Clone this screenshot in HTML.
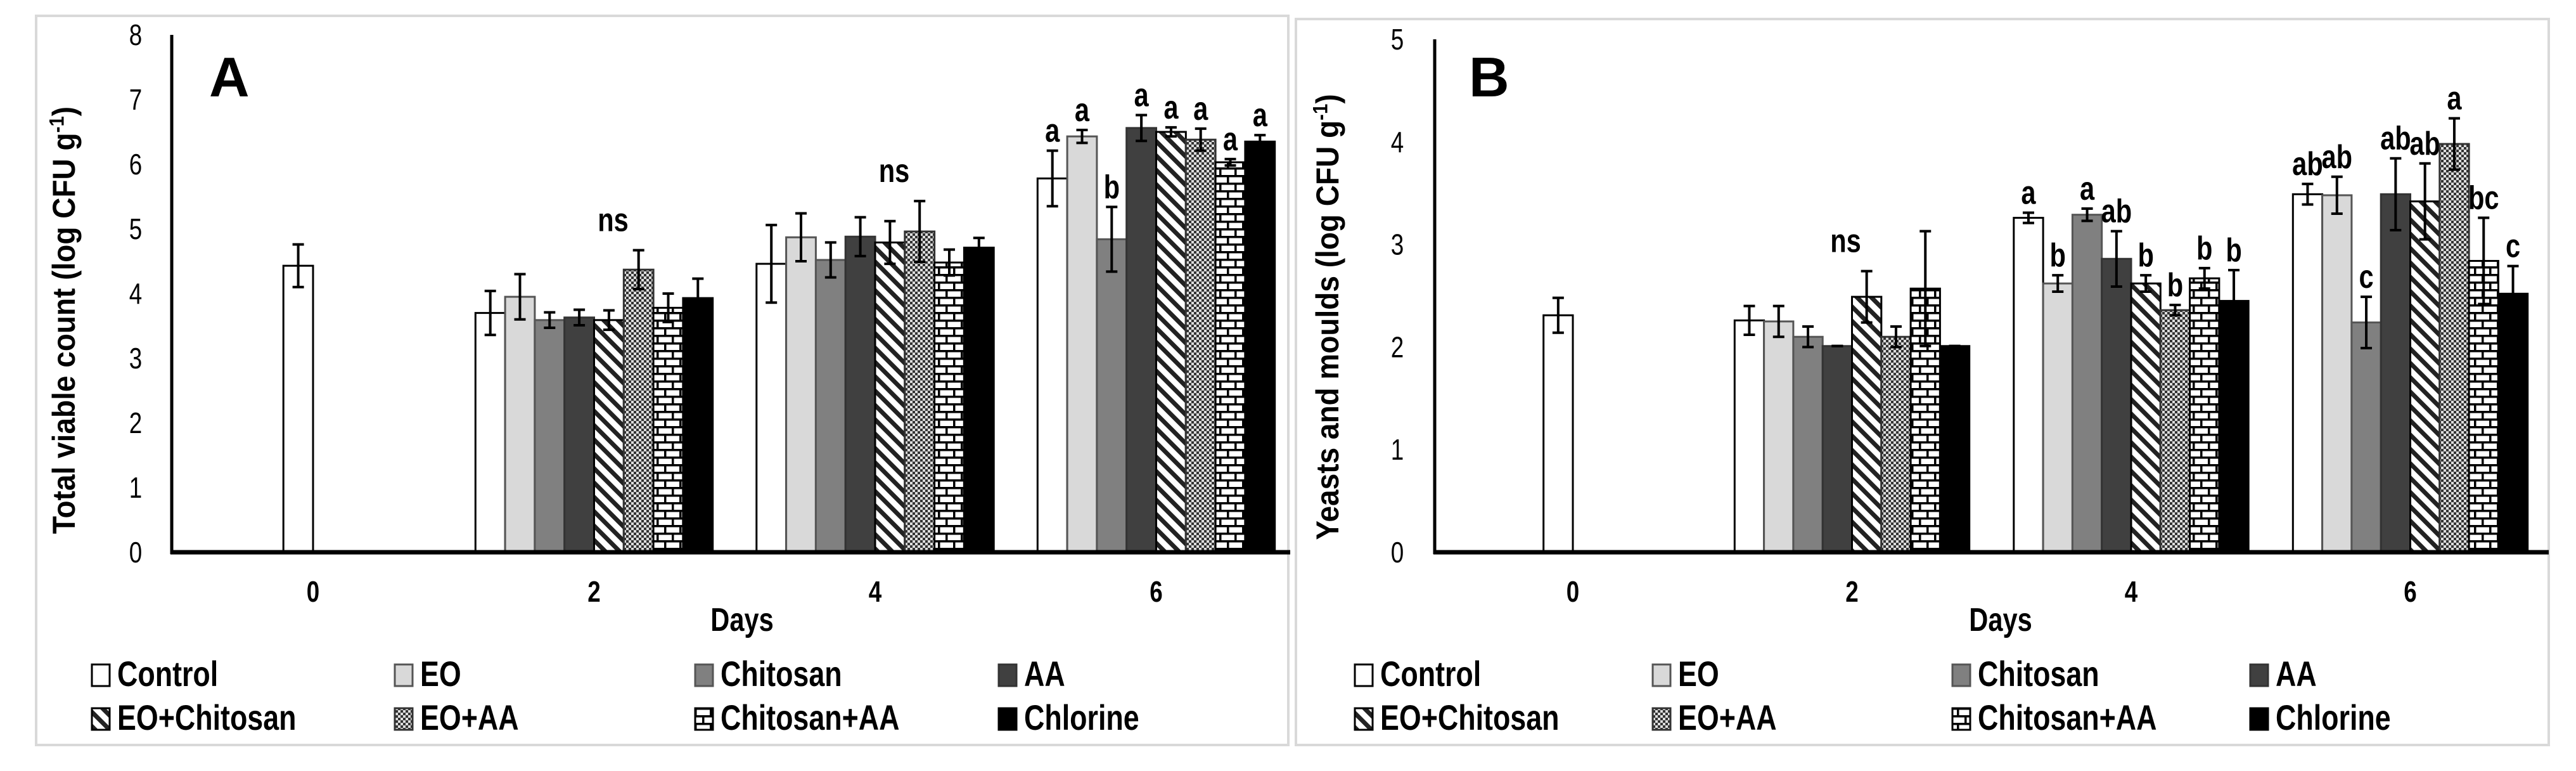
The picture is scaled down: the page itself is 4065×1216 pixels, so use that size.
<!DOCTYPE html>
<html><head><meta charset="utf-8"><title>TVC and yeasts/moulds</title>
<style>
html,body{margin:0;padding:0;background:#fff;}
svg{display:block;font-family:"Liberation Sans",sans-serif;}
</style></head>
<body>
<svg id="chart" width="4065" height="1216" viewBox="0 0 4065 1216" xmlns="http://www.w3.org/2000/svg">
<defs>
<pattern id="p-stripe" patternUnits="userSpaceOnUse" width="16" height="16" patternTransform="rotate(45)">
<rect width="16" height="16" fill="#fff"/><rect width="16" height="7" fill="#222"/>
</pattern>
<pattern id="p-check" patternUnits="userSpaceOnUse" width="8" height="8">
<rect width="8" height="8" fill="#ddd"/><rect width="4" height="4" fill="#333"/><rect x="4" y="4" width="4" height="4" fill="#333"/>
</pattern>
<pattern id="p-brick" patternUnits="userSpaceOnUse" width="24" height="24">
<rect width="24" height="24" fill="#fff"/>
<rect y="0" width="24" height="3.5" fill="#000"/><rect y="12" width="24" height="3.5" fill="#000"/>
<rect x="4" y="0" width="3.5" height="12" fill="#000"/><rect x="16" y="12" width="3.5" height="12" fill="#000"/>
</pattern>
</defs>
<g id="root"></g>
</svg>
<script>
const days = ["0","2","4","6"];
const seriesNames = ["Control","EO","Chitosan","AA","EO+Chitosan","EO+AA","Chitosan+AA","Chlorine"];
const ticksA = [0,1,2,3,4,5,6,7,8];
const ticksB = [0,1,2,3,4,5];
// Panel A: total viable count, rows = days, cols = series (day 0 only Control)
const valA = [
 [4.43],
 [3.70,3.95,3.59,3.63,3.59,4.37,3.78,3.93],
 [4.46,4.87,4.52,4.88,4.79,4.96,4.48,4.71],
 [5.78,6.43,4.84,6.56,6.50,6.38,6.03,6.35]
];
const errA = [
 [0.33],
 [0.34,0.35,0.12,0.12,0.15,0.30,0.22,0.30],
 [0.60,0.37,0.27,0.30,0.33,0.47,0.20,0.15],
 [0.43,0.10,0.50,0.20,0.07,0.17,0.05,0.10]
];
const lettersA = [[],[],[],["a","a","b","a","a","a","a","a"]];
const nsA = [null,"ns","ns",null];
// Panel B: yeasts and moulds
const valB = [
 [2.31],
 [2.26,2.25,2.10,2.01,2.49,2.10,2.57,2.01],
 [3.26,2.62,3.29,2.86,2.62,2.36,2.67,2.45],
 [3.49,3.48,2.24,3.49,3.42,3.98,2.84,2.52]
];
const errB = [
 [0.17],
 [0.14,0.15,0.10,0.00,0.25,0.10,0.56,0.00],
 [0.05,0.08,0.06,0.27,0.08,0.05,0.10,0.30],
 [0.10,0.18,0.25,0.35,0.37,0.25,0.42,0.27]
];
const lettersB = [[],[],["a","b","a","ab","b","b","b","b"],["ab","ab","c","ab","ab","a","bc","c"]];
const nsB = [null,"ns",null,null];

const fills = ["#fff","#d9d9d9","#808080","#404040","url(#p-stripe)","url(#p-check)","url(#p-brick)","#000"];
const strokes = ["#000","#555","#555","#333","#000","#333","#000","#000"];
const NS = "http://www.w3.org/2000/svg";
const SX = 0.8;
const root = document.getElementById('root');
function mk(tag, attrs, parent, text){
  const e = document.createElementNS(NS, tag);
  for (const k in attrs) e.setAttribute(k, attrs[k]);
  if (text !== undefined) e.textContent = text;
  (parent||root).appendChild(e); return e;
}
function txt(x, y, str, attrs, parent){
  const a = Object.assign({x:0, y:0, transform:`translate(${x},${y}) scale(${SX},1)`, fill:'#000'}, attrs);
  return mk('text', a, parent, str);
}

function panel(cfg){
  const g = mk('g', {});
  
  
  const b = mk('rect', {x:cfg.bx, y:cfg.by, width:cfg.bw, height:cfg.bh, fill:'none', stroke:'#d9d9d9', 'stroke-width':4}, g);
  
  
  const ymax = cfg.ticks[cfg.ticks.length-1];
  const yS = v => cfg.y0 - v * (cfg.y0 - cfg.yTop) / ymax;
  const xC = i => cfg.c0 + i * cfg.gap;
  const bw = cfg.barW;
  cfg.ticks.forEach(t => {
    const tl = txt(cfg.tickX, yS(t)+16, String(t), {'text-anchor':'middle', 'font-size':46}, g);
    
    
  });
  cfg.vals.forEach((row, d) => {
    row.forEach((v, s) => {
      let x;
      if (d === 0) x = xC(d) - bw; else x = xC(d) - 4*bw + s*bw;
      const r = mk('rect', {x:x, y:yS(v), width:bw, height:yS(0)-yS(v), fill:fills[s], stroke:strokes[s], 'stroke-width':3}, g);
      
      
      const e = cfg.errs[d][s], cx = x + bw/2;
      const eg = mk('g', {stroke:'#000', 'stroke-width':4}, g);
      
      
      mk('line', {x1:cx, x2:cx, y1:yS(v+e), y2:yS(v-e)}, eg);
      mk('line', {x1:cx-9, x2:cx+9, y1:yS(v+e), y2:yS(v+e)}, eg);
      mk('line', {x1:cx-9, x2:cx+9, y1:yS(v-e), y2:yS(v-e)}, eg);
      const L = cfg.letters[d][s];
      if (L) {
        const lt = txt(cx, yS(v+e)-14, L, {'text-anchor':'middle', 'font-size':52, 'font-weight':'bold'}, g);
        
        
      }
    });
    if (cfg.ns[d]) {
      let top = 0;
      row.forEach((v, s) => { if (s <= 5) top = Math.max(top, v + cfg.errs[d][s]); });
      const nt = txt(xC(d)+cfg.nsDx, yS(top)-30, cfg.ns[d], {'text-anchor':'middle', 'font-size':52, 'font-weight':'bold'}, g);
      
      
    }
    const xl = txt(xC(d), cfg.y0+78, days[d], {'text-anchor':'middle', 'font-size':46, 'font-weight':'bold'}, g);
    
    
  });
  const ya = mk('line', {x1:cfg.ax, x2:cfg.ax, y1:cfg.yTop, y2:cfg.y0+3, stroke:'#000', 'stroke-width':5}, g);
  
  
  const xa = mk('line', {x1:cfg.ax-2, x2:cfg.axEnd, y1:cfg.y0, y2:cfg.y0, stroke:'#000', 'stroke-width':7}, g);
  
  
  const xt = txt(cfg.daysX, cfg.y0+124, 'Days', {'text-anchor':'middle', 'font-size':52, 'font-weight':'bold'}, g);
  
  
  const yt = mk('text', {x:0, y:0, 'text-anchor':'middle', 'font-size':50, 'font-weight':'bold', fill:'#000', transform:`translate(${cfg.ytX},${cfg.ytY}) rotate(-90) scale(0.92,1)`}, g);
  
  
  yt.appendChild(document.createTextNode(cfg.ytitle));
  mk('tspan', {'baseline-shift':'super', 'font-size':32}, yt, '-1');
  yt.appendChild(document.createTextNode(')'));
  const pl = mk('text', {x:cfg.lx, y:cfg.ly, 'font-size':88, 'font-weight':'bold', fill:'#000'}, g, cfg.letter);
  
  
  seriesNames.forEach((n, s) => {
    const col = s % 4, row = Math.floor(s / 4);
    const lx = cfg.legX[col], ly = row === 0 ? 1082 : 1151;
    const lg = mk('g', {}, g);
    
    
    mk('rect', {x:lx+2, y:ly-34, width:28, height:34, fill:fills[s], stroke:strokes[s], 'stroke-width':3}, lg);
    txt(lx+42, ly, n, {'font-size':56, 'font-weight':'bold'}, lg);
  });
}

panel({name:'panel-a-total-viable-count', letter:'A', bx:57, by:25, bw:1976, bh:1150,
  y0:871, yTop:55, ticks:ticksA, tickX:214, ax:271, axEnd:2036,
  c0:494, gap:443.5, barW:46.8, vals:valA, errs:errA, letters:lettersA, ns:nsA, nsDx:30,
  daysX:1171, ytX:118, ytY:505, ytitle:'Total viable count (log CFU g', lx:330, ly:152,
  legX:[143,621,1095,1574]});
panel({name:'panel-b-yeasts-moulds', letter:'B', bx:2045, by:30, bw:1977, bh:1145,
  y0:871, yTop:62, ticks:ticksB, tickX:2205, ax:2264, axEnd:4022,
  c0:2482, gap:440.5, barW:46.3, vals:valB, errs:errB, letters:lettersB, ns:nsB, nsDx:-10,
  daysX:3157, ytX:2112, ytY:500, ytitle:'Yeasts and moulds (log CFU g', lx:2318, ly:152,
  legX:[2136,2606,3079,3549]});
</script>
</body></html>
